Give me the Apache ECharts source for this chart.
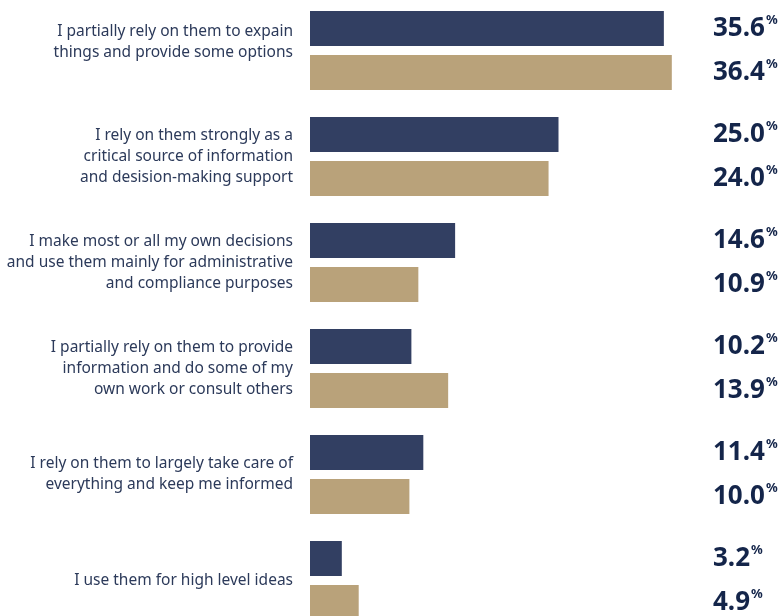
<!DOCTYPE html>
<html>
<head>
<meta charset="utf-8">
<script src="https://cdn.jsdelivr.net/npm/echarts@6/dist/echarts.min.js"></script>
<style>
  html, body { margin: 0; padding: 0; background: #ffffff; }
  #chart { width: 782px; height: 616px; }
</style>
</head>
<body>
<div id="chart"></div>
<script>
// Survey responses: how people rely on their advisers
const categories = [
  'I partially rely on them to expain\nthings and provide some options',
  'I rely on them strongly as a\ncritical source of information\nand desision-making support',
  'I make most or all my own decisions\nand use them mainly for administrative\nand compliance purposes',
  'I partially rely on them to provide\ninformation and do some of my\nown work or consult others',
  'I rely on them to largely take care of\neverything and keep me informed',
  'I use them for high level ideas'
];
const seriesA = [35.6, 25.0, 14.6, 10.2, 11.4, 3.2];
const seriesB = [36.4, 24.0, 10.9, 13.9, 10.0, 4.9];

const NAVY = '#323f62';
const TAN = '#b9a27a';
const LABEL_COLOR = '#14254a';

const chart = echarts.init(document.getElementById('chart'), null, { renderer: 'canvas' });

const valueLabel = {
  show: true,
  position: 'right',
  formatter: p => '{v|' + p.value.toFixed(1) + '}{p|%}',
  rich: {
    v: { fontFamily: 'Noto Sans', fontWeight: 'bold', fontSize: 26, color: LABEL_COLOR, lineHeight: 30 },
    p: { fontFamily: 'Noto Sans', fontWeight: 'bold', fontSize: 13, color: LABEL_COLOR, verticalAlign: 'top', lineHeight: 20, padding: [0, 0, 0, 1] }
  }
};

// Value labels sit in a fixed column at the right edge, centred on their bar
const labelColumn = params => ({
  x: chart.getWidth() - 69,
  y: params.rect.y + params.rect.height / 2,
  align: 'left',
  verticalAlign: 'middle'
});

chart.setOption({
  animation: false,
  backgroundColor: '#ffffff',
  grid: { left: 310, top: -2.5, height: 636, right: 74.4, containLabel: false, outerBoundsMode: 'none' },
  xAxis: {
    type: 'value', min: 0, max: 40,
    show: false
  },
  yAxis: {
    type: 'category',
    inverse: true,
    data: categories,
    axisLine: { show: false },
    axisTick: { show: false },
    splitLine: { show: false },
    axisLabel: {
      margin: 17,
      fontFamily: 'Noto Sans',
      fontSize: 15.5,
      lineHeight: 21,
      color: '#2c3a5a',
      align: 'right',
      // the first answer sits slightly higher than its pair of bars
      formatter: (v, i) => i === 0 ? v + '\n{gap|}' : v,
      rich: { gap: { fontSize: 1, lineHeight: 16 } }
    }
  },
  series: [
    {
      type: 'bar', data: seriesA, barWidth: 35, barGap: '25.7%',
      itemStyle: { color: NAVY },
      label: valueLabel,
      labelLayout: labelColumn
    },
    {
      type: 'bar', data: seriesB, barWidth: 35, barGap: '25.7%',
      itemStyle: { color: TAN },
      label: valueLabel,
      labelLayout: labelColumn
    }
  ]
});
</script>
</body>
</html>
